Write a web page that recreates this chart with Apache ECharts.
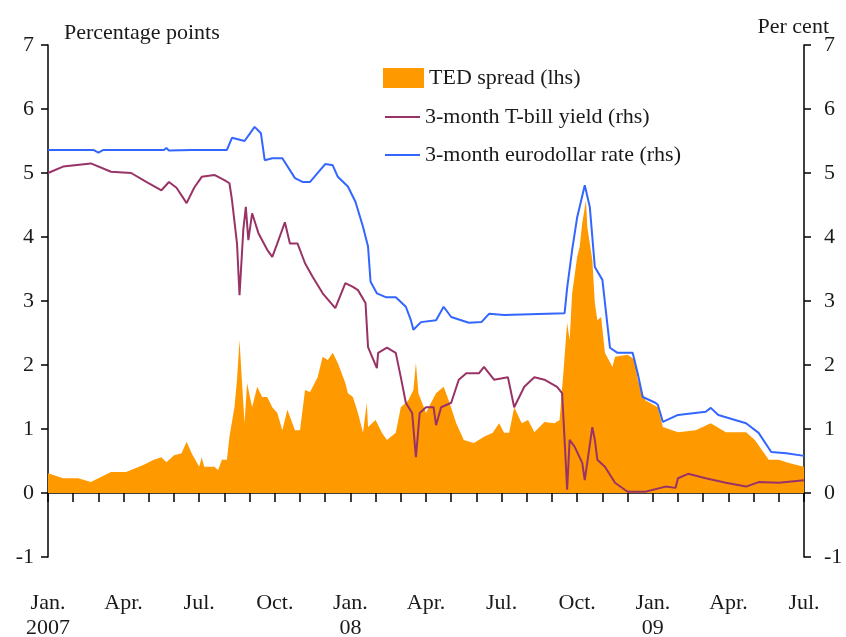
<!DOCTYPE html>
<html>
<head>
<meta charset="utf-8">
<script src="https://cdn.jsdelivr.net/npm/echarts@6/dist/echarts.min.js"></script>
<style>html,body{margin:0;padding:0;background:#fff}#c{width:846px;height:637px}</style>
</head>
<body>
<div id="c"></div>
<script>
// x values are months since 1 Jan 2007
var tedMonths = [0,0.3,0.6,1.2,1.7,2.1,2.5,3.1,3.8,4.2,4.5,4.7,5.0,5.3,5.5,5.7,6.0,6.1,6.2,6.6,6.75,6.9,7.1,7.2,7.4,7.5,7.6,7.7,7.8,7.9,8.1,8.3,8.5,8.7,8.9,9.1,9.3,9.5,9.8,10.0,10.2,10.4,10.7,10.9,11.1,11.3,11.5,11.8,11.9,12.1,12.3,12.5,12.65,12.7,13.0,13.25,13.45,13.8,14.0,14.3,14.5,14.6,14.7,15.0,15.2,15.4,15.7,15.9,16.2,16.5,16.9,17.3,17.65,17.9,18.1,18.3,18.5,18.8,19.05,19.3,19.7,20.1,20.3,20.45,20.6,20.7,20.8,21.0,21.1,21.2,21.35,21.4,21.6,21.7,21.8,21.95,22.1,22.4,22.5,23.0,23.3,23.4,23.7,24.2,24.4,25.0,25.7,26.3,26.9,27.7,28.05,28.6,29.0,29.4,30];
var tedValues = [0.31,0.27,0.23,0.23,0.17,0.25,0.33,0.33,0.44,0.52,0.56,0.48,0.59,0.62,0.8,0.62,0.41,0.56,0.41,0.41,0.36,0.52,0.52,0.88,1.34,1.77,2.39,1.72,1.09,1.72,1.34,1.66,1.5,1.5,1.34,1.25,0.98,1.3,0.98,0.98,1.61,1.58,1.81,2.13,2.08,2.19,2.03,1.72,1.56,1.5,1.25,0.94,1.41,1.03,1.14,0.94,0.83,0.94,1.34,1.45,1.61,2.03,1.56,1.25,1.41,1.56,1.66,1.45,1.09,0.83,0.78,0.88,0.94,1.09,0.94,0.94,1.34,1.09,1.14,0.95,1.11,1.09,1.14,1.87,2.66,2.39,3.12,3.69,3.85,4.22,4.58,4.16,3.64,2.97,2.7,2.75,2.19,1.97,2.13,2.16,2.08,1.77,1.45,1.34,1.03,0.95,0.98,1.09,0.95,0.95,0.83,0.52,0.52,0.47,0.41];

var tbillMonths = [0,0.6,1.7,2.5,3.3,3.9,4.5,4.8,5.1,5.5,5.8,6.1,6.6,7.0,7.2,7.3,7.5,7.6,7.75,7.85,7.95,8.1,8.35,8.7,8.9,9.1,9.4,9.6,9.9,10.2,10.5,10.9,11.4,11.8,12.1,12.3,12.6,12.7,13.05,13.1,13.45,13.8,14.0,14.2,14.45,14.6,14.75,15.0,15.3,15.4,15.6,16.0,16.3,16.6,17.1,17.3,17.7,18.25,18.5,18.9,19.3,19.7,20.2,20.4,20.5,20.6,20.7,20.9,21.2,21.3,21.6,21.7,21.8,22.1,22.5,23.0,23.7,24.5,24.9,25.0,25.4,26.1,26.9,27.7,28.2,29.0,30];
var tbillValues = [5.0,5.1,5.15,5.02,5.0,4.86,4.73,4.86,4.77,4.53,4.77,4.94,4.97,4.89,4.84,4.58,3.9,3.09,4.11,4.47,3.95,4.37,4.06,3.8,3.69,3.9,4.23,3.9,3.9,3.59,3.38,3.12,2.89,3.28,3.22,3.17,2.97,2.28,1.95,2.19,2.27,2.19,1.81,1.41,1.25,0.56,1.25,1.34,1.34,1.06,1.34,1.41,1.77,1.87,1.87,1.97,1.77,1.81,1.34,1.66,1.81,1.77,1.66,1.56,0.83,0.05,0.83,0.72,0.47,0.2,1.03,0.83,0.52,0.41,0.16,0.02,0.02,0.1,0.08,0.23,0.3,0.23,0.16,0.1,0.17,0.16,0.2];

var euroMonths = [0,1.8,2.0,2.2,4.6,4.7,4.8,5.7,7.1,7.3,7.8,8.2,8.45,8.6,8.9,9.3,9.8,10.1,10.4,11.0,11.3,11.5,11.9,12.2,12.5,12.7,12.8,13.05,13.4,13.8,14.2,14.4,14.5,14.8,15.4,15.7,16.0,16.7,17.2,17.5,18.1,20.5,20.6,20.8,21.0,21.3,21.5,21.7,22.0,22.3,22.6,23.2,23.4,23.6,24.1,24.2,24.4,25.0,26.1,26.3,26.6,27.7,28.2,28.7,29.3,30];
var euroValues = [5.36,5.36,5.32,5.36,5.36,5.39,5.35,5.36,5.36,5.55,5.5,5.72,5.62,5.2,5.23,5.23,4.92,4.86,4.86,5.14,5.12,4.94,4.79,4.55,4.16,3.85,3.3,3.12,3.06,3.06,2.91,2.7,2.55,2.67,2.7,2.91,2.75,2.66,2.67,2.8,2.78,2.81,3.2,3.8,4.31,4.81,4.47,3.53,3.33,2.27,2.19,2.19,1.87,1.5,1.41,1.38,1.11,1.22,1.27,1.33,1.22,1.09,0.94,0.64,0.62,0.58];

var monthLabels = ['Jan.','Apr.','Jul.','Oct.'];
var yearLabels = {0:'2007', 12:'08', 24:'09'};
var seriesNames = ['TED spread (lhs)','3-month T-bill yield (rhs)','3-month eurodollar rate (rhs)'];

function pairs(xs, ys){ return xs.map(function(x,i){ return [x, ys[i]]; }); }

var FONT = 'Liberation Serif';
var FS = 22;
var txt = {fontFamily: FONT, fontSize: FS, color: '#1a1a1a'};

var chart = echarts.init(document.getElementById('c'));
chart.setOption({
  animation: false,
  backgroundColor: '#fff',
  title: [
    {text: 'Percentage points', left: 59, top: 17, textStyle: {fontFamily: FONT, fontSize: FS, fontWeight: 'normal', color: '#1a1a1a'}},
    {text: 'Per cent', right: 12, top: 11, textStyle: {fontFamily: FONT, fontSize: FS, fontWeight: 'normal', color: '#1a1a1a'}}
  ],
  legend: [
    {data: [{name: seriesNames[0], icon: 'rect'}], left: 378, top: 62, itemWidth: 41, itemHeight: 20, itemGap: 5, textStyle: txt},
    {data: [{name: seriesNames[1], icon: 'rect'}, {name: seriesNames[2], icon: 'rect'}], orient: 'vertical', left: 380, top: 101, itemWidth: 35, itemHeight: 2, itemGap: 16, textStyle: txt}
  ],
  grid: {left: 48, right: 42, top: 45, bottom: 80, containLabel: false, outerBoundsMode: 'none'},
  xAxis: [
    {type: 'value', min: 0, max: 30, interval: 1, position: 'bottom',
     axisLine: {onZero: true, onZeroAxisIndex: 0, lineStyle: {color: '#000', width: 1.5}},
     axisTick: {show: true, inside: false, length: 9, lineStyle: {color: '#000', width: 1.5}},
     axisLabel: {show: false}, splitLine: {show: false}},
    {type: 'value', min: 0, max: 30, interval: 3, position: 'bottom',
     axisLine: {show: false, onZero: false}, axisTick: {show: false}, splitLine: {show: false},
     axisLabel: {margin: 34, fontFamily: FONT, fontSize: FS, color: '#1a1a1a', lineHeight: 25,
       formatter: function(v){ var m = Math.round(v); var s = monthLabels[(m/3)%4]; if (yearLabels[m] !== undefined) s += '\n' + yearLabels[m]; return s; }}}
  ],
  yAxis: [
    {type: 'value', min: -1, max: 7, interval: 1, position: 'left',
     axisLine: {show: true, onZero: false, lineStyle: {color: '#000', width: 1.5}},
     axisTick: {show: true, length: 7, lineStyle: {color: '#000', width: 1.5}},
     axisLabel: {margin: 14, fontFamily: FONT, fontSize: FS, color: '#1a1a1a'}, splitLine: {show: false}},
    {type: 'value', min: -1, max: 7, interval: 1, position: 'right',
     axisLine: {show: true, onZero: false, lineStyle: {color: '#000', width: 1.5}},
     axisTick: {show: true, length: 7, lineStyle: {color: '#000', width: 1.5}},
     axisLabel: {margin: 20, fontFamily: FONT, fontSize: FS, color: '#1a1a1a'}, splitLine: {show: false}}
  ],
  series: [
    {name: seriesNames[0], type: 'line', xAxisIndex: 0, yAxisIndex: 0, data: pairs(tedMonths, tedValues),
     symbol: 'none', lineStyle: {width: 0}, areaStyle: {color: '#FF9900', opacity: 1}, itemStyle: {color: '#FF9900'}, z: 1},
    {name: seriesNames[1], type: 'line', xAxisIndex: 0, yAxisIndex: 1, data: pairs(tbillMonths, tbillValues),
     symbol: 'none', lineStyle: {width: 2, color: '#993366'}, itemStyle: {color: '#993366'}, z: 3},
    {name: seriesNames[2], type: 'line', xAxisIndex: 0, yAxisIndex: 1, data: pairs(euroMonths, euroValues),
     symbol: 'none', lineStyle: {width: 2, color: '#3366FF'}, itemStyle: {color: '#3366FF'}, z: 4}
  ]
});
</script>
</body>
</html>
